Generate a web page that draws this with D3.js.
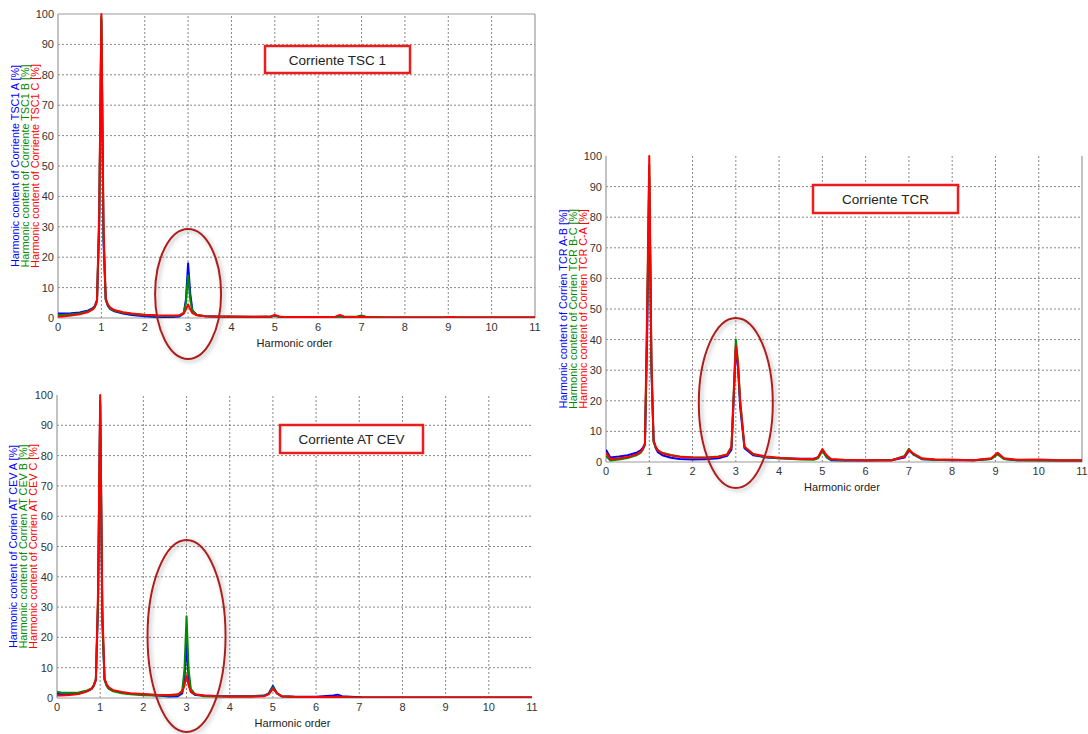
<!DOCTYPE html>
<html>
<head>
<meta charset="utf-8">
<script src="https://cdn.jsdelivr.net/npm/d3@7"></script>
<style>
  body { margin: 0; background: #fff; }
  svg { font-family: "Liberation Sans", Arial, sans-serif; }
</style>
</head>
<body>
<svg id="chart" width="1088" height="734"></svg>
<script>
// harmonic order samples shared by every spectrum
var harmonicOrder = [0, 0.1, 0.3, 0.5, 0.7, 0.8, 0.85, 0.9, 0.95, 1.0,
    1.05, 1.1, 1.15, 1.2, 1.3, 1.5, 1.7, 2.0, 2.3, 2.6,
    2.8, 2.9, 2.95, 3.0, 3.05, 3.1, 3.2, 3.4, 3.7, 4.0,
    4.5, 4.8, 4.9, 5.0, 5.1, 5.2, 5.5, 6.0, 6.4, 6.5,
    6.6, 6.9, 7.0, 7.1, 7.3, 7.6, 8.0, 8.5, 8.9, 9.05,
    9.2, 9.5, 10.0, 10.5, 11.0];

var xTicks = [0, 1, 2, 3, 4, 5, 6, 7, 8, 9, 10, 11];
var yTicks = [0, 10, 20, 30, 40, 50, 60, 70, 80, 90, 100];

// Corriente TSC 1
var tsc1A = [1.5, 1.5, 1.6, 1.8, 2.5, 3.2, 4, 6, 30, 98,
    25, 6, 4, 3, 2.2, 1.5, 1.0, 0.6, 0.3, 0.3,
    0.5, 1.5, 6, 18, 8, 2.5, 1.0, 0.6, 0.4, 0.4,
    0.3, 0.3, 0.4, 0.8, 0.4, 0.3, 0.3, 0.2, 0.3, 0.6,
    0.3, 0.3, 0.5, 0.3, 0.2, 0.2, 0.2, 0.2, 0.2, 0.3,
    0.2, 0.2, 0.2, 0.2, 0.2];
var tsc1B = [1.0, 1.0, 1.2, 1.5, 2.2, 3, 3.8, 5.8, 32, 99,
    27, 6.2, 4.2, 3.2, 2.4, 1.7, 1.3, 0.9, 0.7, 0.6,
    0.8, 1.8, 5, 14, 6, 2.2, 1.0, 0.6, 0.5, 0.4,
    0.4, 0.5, 0.4, 0.7, 0.4, 0.3, 0.3, 0.3, 0.3, 0.5,
    0.4, 0.5, 0.8, 0.4, 0.3, 0.2, 0.2, 0.2, 0.2, 0.3,
    0.2, 0.2, 0.2, 0.2, 0.2];
var tsc1C = [0.4, 0.5, 0.8, 1.2, 2, 2.8, 3.6, 5.5, 35, 100,
    30, 6.5, 4.5, 3.5, 2.6, 1.9, 1.5, 1.1, 0.9, 0.8,
    0.9, 1.5, 2.8, 4.5, 2.8, 1.6, 0.9, 0.6, 0.5, 0.5,
    0.4, 0.4, 0.5, 1.0, 0.5, 0.4, 0.3, 0.3, 0.4, 1.0,
    0.4, 0.3, 0.4, 0.3, 0.2, 0.2, 0.2, 0.2, 0.2, 0.3,
    0.2, 0.2, 0.2, 0.2, 0.2];

// Corriente AT CEV
var cevA = [1.5, 1.2, 1.3, 1.5, 2.3, 3, 4, 6, 30, 97,
    25, 6.2, 4.2, 3.2, 2.4, 1.8, 1.4, 1.2, 0.8, 0.5,
    0.6, 1.5, 6, 18, 6, 2, 1.0, 0.8, 0.7, 0.6,
    0.6, 0.8, 1.5, 4, 1.5, 0.6, 0.4, 0.4, 0.8, 1.1,
    0.6, 0.3, 0.3, 0.2, 0.2, 0.2, 0.2, 0.2, 0.2, 0.2,
    0.2, 0.2, 0.2, 0.2, 0.2];
var cevB = [2.0, 1.8, 1.7, 1.8, 2.5, 3.2, 4.2, 6.3, 32, 98,
    27, 6, 4, 3, 2.2, 1.6, 1.2, 0.9, 0.8, 0.8,
    1.0, 2.5, 9, 27, 9, 3, 1.2, 0.6, 0.5, 0.5,
    0.5, 0.7, 1.4, 3.5, 1.4, 0.5, 0.3, 0.3, 0.3, 0.4,
    0.3, 0.2, 0.2, 0.2, 0.2, 0.2, 0.2, 0.2, 0.2, 0.2,
    0.2, 0.2, 0.2, 0.2, 0.2];
var cevC = [0.8, 0.8, 1.0, 1.3, 2.2, 3, 4, 6, 35, 100,
    30, 6.5, 4.5, 3.5, 2.6, 2, 1.6, 1.3, 1.1, 1.0,
    1.2, 2, 4, 7.5, 4, 2, 1.2, 0.8, 0.6, 0.5,
    0.5, 0.6, 1.2, 3, 1.5, 0.6, 0.4, 0.3, 0.3, 0.4,
    0.3, 0.2, 0.2, 0.2, 0.2, 0.2, 0.2, 0.2, 0.2, 0.2,
    0.2, 0.2, 0.2, 0.2, 0.2];

// Corriente TCR
var tcrAB = [4, 1.5, 1.8, 2.2, 3, 3.8, 4.6, 6, 40, 93,
    30, 7, 4.5, 3.2, 2.2, 1.4, 1.0, 0.8, 0.9, 1.2,
    2.0, 4, 20, 37, 31, 18, 4.5, 2.2, 1.5, 1.2,
    1.1, 1.1, 1.5, 4, 1.5, 0.6, 0.5, 0.5, 0.6, 0.6,
    0.6, 1.5, 3.8, 2.5, 0.9, 0.7, 0.6, 0.6, 1.0, 2.8,
    1.0, 0.6, 0.6, 0.5, 0.5];
var tcrBC = [2, 0.5, 0.8, 1.3, 2.2, 3, 4, 5.5, 45, 97,
    32, 6.5, 4.8, 3.8, 3, 2.3, 1.8, 1.5, 1.5, 1.8,
    2.5, 5, 22, 40, 33, 20, 5, 2.5, 1.6, 1.2,
    0.8, 0.7, 1.2, 3.6, 1.6, 0.8, 0.6, 0.6, 0.6, 0.6,
    0.6, 2, 4.3, 2.5, 1, 0.7, 0.7, 0.6, 1.0, 2.5,
    1.0, 0.6, 0.5, 0.5, 0.5];
var tcrCA = [3, 1, 1.2, 1.6, 2.5, 3.3, 4.2, 6, 50, 100,
    33, 7, 5, 3.8, 2.8, 2.1, 1.7, 1.5, 1.4, 1.7,
    2.4, 5, 22, 38, 32, 20, 5, 2.6, 1.8, 1.4,
    1.0, 1.0, 1.6, 4.2, 2.2, 1.0, 0.7, 0.6, 0.6, 0.6,
    0.6, 1.8, 4, 2.8, 1.2, 0.8, 0.7, 0.6, 1.2, 3,
    1.2, 0.7, 0.8, 0.6, 0.6];

var tsc1Labels = ["Harmonic content of Corriente TSC1 A [%]", "Harmonic content of Corriente TSC1 B [%]", "Harmonic content of Corriente TSC1 C [%]"];
var cevLabels = ["Harmonic content of Corrien AT CEV A [%]", "Harmonic content of Corrien AT CEV B [%]", "Harmonic content of Corrien AT CEV C [%]"];
var tcrLabels = ["Harmonic content of Corrien TCR A-B [%]", "Harmonic content of Corrien TCR B-C [%]", "Harmonic content of Corrien TCR C-A [%]"];

var SERIES_COLORS = ["#0000ff", "#008a00", "#ff0000"];
var AXIS_COLOR = "#9a9a9a";
var GRID_COLOR = "#6a6a6a";

var svg = d3.select("#chart");

var defs = svg.append("defs");
var shadow = defs.append("filter").attr("id", "ellShadow")
    .attr("x", "-30%").attr("y", "-30%").attr("width", "160%").attr("height", "160%");
shadow.append("feDropShadow")
    .attr("dx", 2).attr("dy", 2).attr("stdDeviation", 2)
    .attr("flood-color", "#777").attr("flood-opacity", 0.55);

function drawChart(cfg, series, labels, title) {
    var x = d3.scaleLinear().domain([0, 11]).range([cfg.left, cfg.right]);
    var y = d3.scaleLinear().domain([0, 100]).range([cfg.bottom, cfg.top]);
    var g = svg.append("g");

    // grid
    g.selectAll("line.vgrid").data(xTicks.slice(1, 11)).enter().append("line")
        .attr("x1", function (d) { return x(d); }).attr("x2", function (d) { return x(d); })
        .attr("y1", cfg.bottom).attr("y2", cfg.top)
        .style("stroke", GRID_COLOR).style("stroke-width", 0.8)
        .style("stroke-dasharray", "2,2");
    g.selectAll("line.hgrid").data(yTicks.slice(1, 10)).enter().append("line")
        .attr("x1", cfg.left).attr("x2", cfg.right)
        .attr("y1", function (d) { return y(d); }).attr("y2", function (d) { return y(d); })
        .style("stroke", GRID_COLOR).style("stroke-width", 0.8)
        .style("stroke-dasharray", "2,2");

    // axis frame
    var frame = [[cfg.left, cfg.top, cfg.left, cfg.bottom], [cfg.left, cfg.bottom, cfg.right, cfg.bottom]];
    if (cfg.rightBorder) frame.push([cfg.right, cfg.top, cfg.right, cfg.bottom]);
    if (cfg.topBorder) frame.push([cfg.left, cfg.top, cfg.right, cfg.top]);
    g.selectAll("line.frame").data(frame).enter().append("line")
        .attr("x1", function (d) { return d[0]; }).attr("y1", function (d) { return d[1]; })
        .attr("x2", function (d) { return d[2]; }).attr("y2", function (d) { return d[3]; })
        .style("stroke", AXIS_COLOR).style("stroke-width", 1.2);

    // tick labels
    g.selectAll("text.xt").data(xTicks).enter().append("text")
        .attr("x", function (d) { return x(d); }).attr("y", cfg.bottom + 13)
        .attr("text-anchor", "middle").style("font-size", "11px").style("fill", "#333")
        .text(function (d) { return d; });
    g.selectAll("text.yt").data(yTicks).enter().append("text")
        .attr("x", cfg.left - 4).attr("y", function (d) { return y(d) + 4; })
        .attr("text-anchor", "end").style("font-size", "11px").style("fill", "#333")
        .text(function (d) { return d; });

    g.append("text")
        .attr("x", (cfg.left + cfg.right) / 2 - 2).attr("y", cfg.bottom + 29)
        .attr("text-anchor", "middle").style("font-size", "11px").style("fill", "#222")
        .text("Harmonic order");

    // rotated y labels, one per phase
    var midY = (cfg.top + cfg.bottom) / 2;
    labels.forEach(function (lab, i) {
        g.append("text")
            .attr("transform", "translate(" + (cfg.labelX + i * 10 + 4) + "," + midY + ") rotate(-90)")
            .attr("text-anchor", "middle").style("font-size", "10.8px")
            .style("fill", SERIES_COLORS[i])
            .text(lab);
    });

    // spectra
    var line = d3.line()
        .x(function (d) { return x(d[0]); })
        .y(function (d) { return y(d[1]); });
    var clipId = "clip" + cfg.left + cfg.top;
    defs.append("clipPath").attr("id", clipId).append("rect")
        .attr("x", cfg.left).attr("y", cfg.top - 1)
        .attr("width", cfg.right - cfg.left).attr("height", cfg.bottom - cfg.top + 1);
    g.append("g").attr("clip-path", "url(#" + clipId + ")")
        .selectAll("path.spec").data(series).enter().append("path")
        .attr("d", function (s) { return line(harmonicOrder.map(function (h, k) { return [h, s[k]]; })); })
        .style("fill", "none")
        .style("stroke", function (s, i) { return SERIES_COLORS[i]; })
        .style("stroke-width", 2)
        .style("stroke-linejoin", "round");

    // title box
    g.append("rect")
        .attr("x", cfg.titleBox[0]).attr("y", cfg.titleBox[1])
        .attr("width", cfg.titleBox[2]).attr("height", cfg.titleBox[3])
        .style("fill", "#fff").style("stroke", "#ee1c1c").style("stroke-width", 2.5);
    g.append("text")
        .attr("x", cfg.titleBox[0] + cfg.titleBox[2] / 2)
        .attr("y", cfg.titleBox[1] + cfg.titleBox[3] / 2 + 5)
        .attr("text-anchor", "middle").style("font-size", "13.5px").style("fill", "#222")
        .text(title);

    // highlight around 3rd harmonic
    g.append("ellipse")
        .attr("cx", x(3)).attr("cy", cfg.ellipse[0])
        .attr("rx", cfg.ellipse[1]).attr("ry", cfg.ellipse[2])
        .style("fill", "none").style("stroke", "#b01e1e").style("stroke-width", 2)
        .attr("filter", "url(#ellShadow)");
}

drawChart({ left: 58, right: 535, top: 14, bottom: 318, labelX: 15, topBorder: true, rightBorder: true,
    titleBox: [265, 46, 145, 27], ellipse: [294, 33, 65] },
    [tsc1A, tsc1B, tsc1C], tsc1Labels, "Corriente TSC 1");

drawChart({ left: 57, right: 532, top: 395, bottom: 698, labelX: 13, topBorder: false, rightBorder: false,
    titleBox: [280, 425, 143, 28], ellipse: [636, 39, 96] },
    [cevA, cevB, cevC], cevLabels, "Corriente AT CEV");

drawChart({ left: 606, right: 1082, top: 156, bottom: 462, labelX: 563, topBorder: false, rightBorder: true,
    titleBox: [813, 185, 145, 28], ellipse: [403, 37, 85] },
    [tcrAB, tcrBC, tcrCA], tcrLabels, "Corriente TCR");
</script>
</body>
</html>
